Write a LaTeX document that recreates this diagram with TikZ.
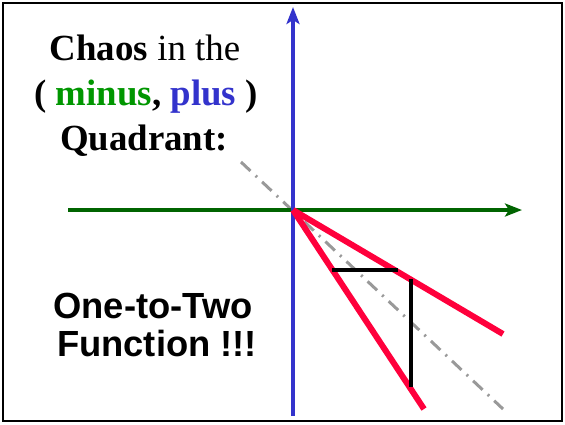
\documentclass[tikz,border=0pt]{standalone}
\usepackage{fontspec}
\setmainfont{Liberation Serif}
\newfontfamily\arialfont{Liberation Sans}
\usetikzlibrary{arrows.meta}
\definecolor{axisgreen}{RGB}{0,100,0}
\definecolor{axisblue}{RGB}{51,51,204}
\definecolor{textgreen}{RGB}{0,150,0}
\definecolor{branchred}{RGB}{255,0,60}

\begin{document}
\begin{tikzpicture}[x=1bp,y=-1bp,
  axis/.style={line width=4bp,-{Stealth[length=17bp,width=13bp,inset=4bp]}},
  branch/.style={branchred,line width=6bp},
  stepline/.style={black,line width=3.5bp},
  title/.style={anchor=base,inner sep=0pt,font=\fontsize{37}{44}\selectfont},
  label/.style={anchor=base,inner sep=0pt,font=\arialfont\bfseries\fontsize{36.5}{40}\selectfont}]
\useasboundingbox (0,0) rectangle (565,424);
\draw[line width=2.5bp] (3,3) rectangle (562,421);

\coordinate (o) at (293,210);
\coordinate (xl) at (68,210);
\coordinate (xr) at (522,210);
\coordinate (yb) at (293,416);
\coordinate (yt) at (293,7);
\coordinate (dl) at (241,162);
\coordinate (dr) at (503,409);
\coordinate (r1) at (503,334);
\coordinate (r2) at (424,409);
\coordinate (h1) at (332,270);
\coordinate (h2) at (398,270);
\coordinate (v1) at (411,279);
\coordinate (v2) at (411,387);

\draw[gray!80,line width=3bp,dash pattern=on 13bp off 7bp on 2bp off 7bp] (dl) -- (dr);
\draw[axis,axisgreen] (xl) -- (xr);
\draw[axis,axisblue] (yb) -- (yt);
\draw[branch] (o) -- (r1);
\draw[branch] (o) -- (r2);
\draw[stepline] (h1) -- (h2);
\draw[stepline] (v1) -- (v2);

\node[title] (t1) at (145,60) {\textbf{Chaos} in the};
\node[title] (t2) at (146,105) {\textbf{( \textcolor{textgreen}{minus}, \textcolor{axisblue}{plus} )}};
\node[title] (t3) at (144,150) {\textbf{Quadrant:}};
\node[label] (l1) at (153,318) {One-to-Two};
\node[label] (l2) at (157,356) {Function !!!};
\end{tikzpicture}
\end{document}
